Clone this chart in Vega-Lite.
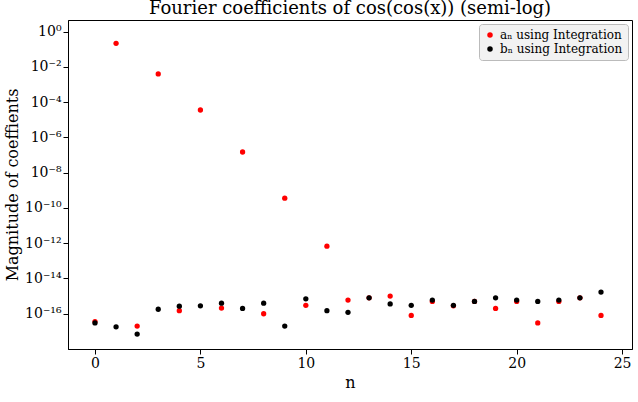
{
  "$schema": "https://vega.github.io/schema/vega-lite/v6.json",
  "width": 638,
  "height": 402,
  "autosize": {"type": "fit", "contains": "padding"},
  "padding": {"left": 4, "top": 0, "right": 6, "bottom": 12},
  "title": {"text": "Fourier coefficients of cos(cos(x)) (semi-log)", "font": "DejaVu Serif", "fontSize": 18, "fontWeight": "normal", "color": "black", "offset": 2},
  "data": {
    "values": [
      {"n": 0, "s": "a", "v": 3.6e-17}, {"n": 1, "s": "a", "v": 0.22}, {"n": 2, "s": "a", "v": 2e-17},
      {"n": 3, "s": "a", "v": 4e-3}, {"n": 4, "s": "a", "v": 1.5e-16}, {"n": 5, "s": "a", "v": 3.6e-5},
      {"n": 6, "s": "a", "v": 2.1e-16}, {"n": 7, "s": "a", "v": 1.5e-7}, {"n": 8, "s": "a", "v": 1e-16},
      {"n": 9, "s": "a", "v": 3.6e-10}, {"n": 10, "s": "a", "v": 3e-16}, {"n": 11, "s": "a", "v": 6.8e-13},
      {"n": 12, "s": "a", "v": 6e-16}, {"n": 13, "s": "a", "v": 8e-16}, {"n": 14, "s": "a", "v": 1e-15},
      {"n": 15, "s": "a", "v": 8e-17}, {"n": 16, "s": "a", "v": 5e-16}, {"n": 17, "s": "a", "v": 2.8e-16},
      {"n": 18, "s": "a", "v": 5e-16}, {"n": 19, "s": "a", "v": 2e-16}, {"n": 20, "s": "a", "v": 5e-16},
      {"n": 21, "s": "a", "v": 3e-17}, {"n": 22, "s": "a", "v": 5e-16}, {"n": 23, "s": "a", "v": 8e-16},
      {"n": 24, "s": "a", "v": 8e-17},
      {"n": 0, "s": "b", "v": 3e-17}, {"n": 1, "s": "b", "v": 1.8e-17}, {"n": 2, "s": "b", "v": 7e-18},
      {"n": 3, "s": "b", "v": 1.8e-16}, {"n": 4, "s": "b", "v": 2.7e-16}, {"n": 5, "s": "b", "v": 2.8e-16},
      {"n": 6, "s": "b", "v": 4e-16}, {"n": 7, "s": "b", "v": 2e-16}, {"n": 8, "s": "b", "v": 4e-16},
      {"n": 9, "s": "b", "v": 2e-17}, {"n": 10, "s": "b", "v": 7e-16}, {"n": 11, "s": "b", "v": 1.5e-16},
      {"n": 12, "s": "b", "v": 1.2e-16}, {"n": 13, "s": "b", "v": 8e-16}, {"n": 14, "s": "b", "v": 3.6e-16},
      {"n": 15, "s": "b", "v": 3e-16}, {"n": 16, "s": "b", "v": 6e-16}, {"n": 17, "s": "b", "v": 3e-16},
      {"n": 18, "s": "b", "v": 5e-16}, {"n": 19, "s": "b", "v": 8e-16}, {"n": 20, "s": "b", "v": 6e-16},
      {"n": 21, "s": "b", "v": 5e-16}, {"n": 22, "s": "b", "v": 6e-16}, {"n": 23, "s": "b", "v": 8e-16},
      {"n": 24, "s": "b", "v": 1.7e-15}
    ]
  },
  "mark": {"type": "circle", "size": 28, "opacity": 1},
  "encoding": {
    "x": {
      "field": "n", "type": "quantitative", "title": "n",
      "scale": {"domain": [-1.28, 25.47], "nice": false, "zero": false},
      "axis": {"values": [0, 5, 10, 15, 20, 25], "grid": false}
    },
    "y": {
      "field": "v", "type": "quantitative", "title": "Magnitude of coeffients",
      "scale": {"type": "log", "domain": [1e-18, 4.6], "nice": false},
      "axis": {
        "values": [1e-16, 1e-14, 1e-12, 1e-10, 1e-8, 1e-6, 1e-4, 1e-2, 1],
        "labelExpr": "['10⁻¹⁶','10⁻¹⁴','10⁻¹²','10⁻¹⁰','10⁻⁸','10⁻⁶','10⁻⁴','10⁻²','10⁰'][(round(log(datum.value)/LN10)+16)/2]",
        "grid": false
      }
    },
    "color": {
      "field": "s", "type": "nominal",
      "scale": {"domain": ["a", "b"], "range": ["red", "black"]},
      "legend": {
        "title": null, "orient": "top-right",
        "labelExpr": "datum.value == 'a' ? 'aₙ using Integration' : 'bₙ using Integration'",
        "fillColor": "#f2f2f2", "strokeColor": "#bbbbbb", "cornerRadius": 3,
        "padding": 5, "offset": 4, "symbolSize": 30, "labelFontSize": 12
      }
    }
  },
  "config": {
    "font": "DejaVu Serif",
    "view": {"stroke": "black", "strokeWidth": 1},
    "axis": {
      "labelFont": "DejaVu Serif", "titleFont": "DejaVu Serif",
      "labelFontSize": 14, "titleFontSize": 16, "titleFontWeight": "normal",
      "labelColor": "black", "titleColor": "black",
      "domainColor": "black", "tickColor": "black", "tickSize": 5
    },
    "legend": {"labelFont": "DejaVu Serif", "labelColor": "black"}
  }
}
